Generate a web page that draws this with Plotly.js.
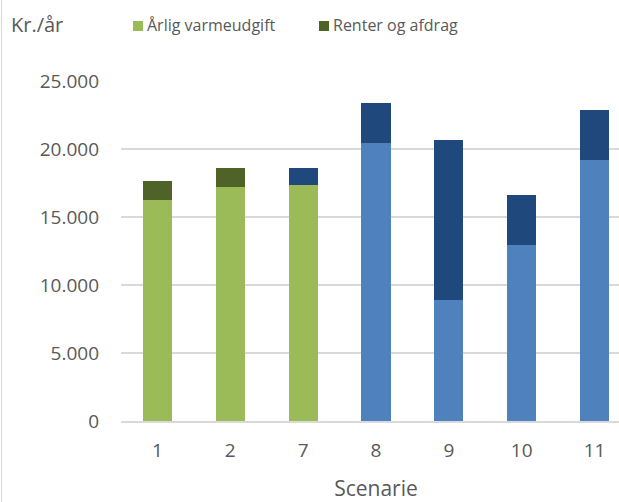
<!DOCTYPE html>
<html><head><meta charset="utf-8">
<script src="https://cdn.plot.ly/plotly-3.0.1.min.js"></script>
<style>html,body{margin:0;padding:0;overflow:hidden;background:#fff;width:619px;height:502px}
#frame{position:absolute;left:1px;top:0;width:1px;height:502px;background:#d9d9d9}
#chart{position:absolute;left:0;top:0}</style>
</head><body><div id="chart"></div><div id="frame"></div>
<script>
const categories = ['1','2','7','8','9','10','11'];
const varmeGreen = [16250, 17200, 17350, null, null, null, null];
const renterGreen = [1400, 1400, null, null, null, null, null];
const varmeBlue = [null, null, null, 20440, 8900, 12940, 19190];
const renterBlue = [null, null, 1250, 2940, 11760, 3680, 3680];
const legendNames = ['Årlig varmeudgift', 'Renter og afdrag'];
const legendColors = ['#9BBB59', '#4F6228'];

const W = 640, H = 502, ML = 121, MR = 9, MT = 81, MB = 81;
const PW = W - ML - MR, PH = H - MT - MB;
const px = v => (v - ML) / PW;
const py = v => (H - MB - v) / PH;

const font = {family: 'Open Sans, Noto Sans, sans-serif', size: 16, color: '#595959'};
const common = {type: 'bar', x: categories, hoverinfo: 'y', marker: {line: {width: 0}}, showlegend: false};
const traces = [
  Object.assign({}, common, {name: legendNames[0], y: varmeGreen, marker: {color: '#9BBB59'}}),
  Object.assign({}, common, {name: 'Blå varme', y: varmeBlue, marker: {color: '#4F81BD'}}),
  Object.assign({}, common, {name: legendNames[1], y: renterGreen, marker: {color: '#4F6228'}}),
  Object.assign({}, common, {name: 'Blå renter', y: renterBlue, marker: {color: '#1F497D'}})
];
const legendX = [133, 319];
const shapes = legendNames.map((n, i) => ({type: 'rect', xref: 'paper', yref: 'paper',
  x0: px(legendX[i]), x1: px(legendX[i] + 10), y0: py(31), y1: py(21),
  fillcolor: legendColors[i], line: {width: 0}}));
const annotations = legendNames.map((n, i) => ({text: n, xref: 'paper', yref: 'paper',
  x: px(legendX[i] + 12), y: py(25), xanchor: 'left', yanchor: 'middle', showarrow: false,
  font: {size: 16, color: '#595959'}}));
annotations.push({text: 'Kr./år', xref: 'paper', yref: 'paper', x: px(9), y: py(25),
  xanchor: 'left', yanchor: 'middle', showarrow: false, font: {size: 20, color: '#595959'}});

const layout = {
  width: W, height: H,
  margin: {l: ML, r: MR, t: MT, b: MB},
  barmode: 'stack', bargap: 0.6,
  separators: ',.',
  font: font,
  paper_bgcolor: '#fff', plot_bgcolor: '#fff',
  showlegend: false,
  xaxis: {type: 'category', tickfont: {size: 19, color: '#595959'}, ticks: '', showline: true,
          linecolor: '#d9d9d9', linewidth: 1.5, showgrid: false, ticklabelstandoff: 12,
          title: {text: 'Scenarie', font: {size: 21, color: '#595959'}, standoff: 20}},
  yaxis: {range: [0, 25000], dtick: 5000, tickformat: ',d', showgrid: true, gridcolor: '#d9d9d9',
          gridwidth: 1.5, zeroline: false, ticks: '', ticklabelstandoff: 21,
          tickfont: {size: 19, color: '#595959'}},
  shapes: shapes,
  annotations: annotations
};
Plotly.newPlot('chart', traces, layout, {displayModeBar: false, staticPlot: true});
</script></body></html>
